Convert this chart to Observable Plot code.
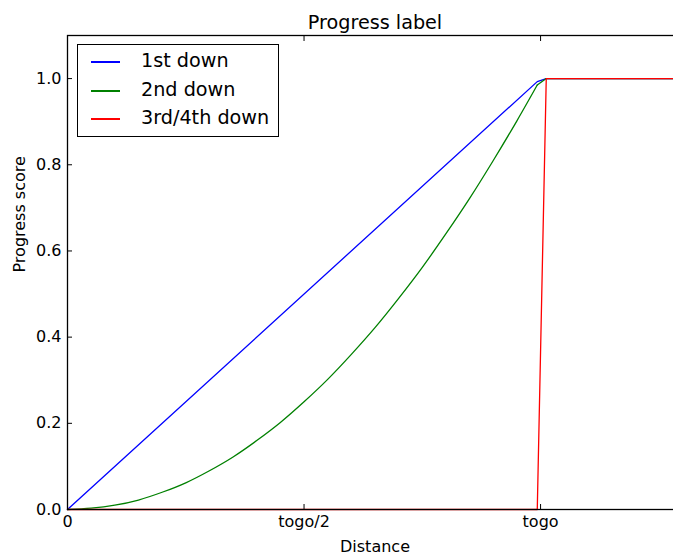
<!DOCTYPE html>
<html><head><meta charset="utf-8">
<script src="https://cdn.jsdelivr.net/npm/d3@7"></script>
<script src="https://cdn.jsdelivr.net/npm/@observablehq/plot@0.6"></script>
<style>
body{margin:0;overflow:hidden;background:white;font-family:"DejaVu Sans",sans-serif;}
#wrap{position:relative;width:673px;height:554px;overflow:hidden;background:white;}
#legend{position:absolute;left:77px;top:44px;width:200px;height:91px;border:1px solid black;background:white;font-family:"DejaVu Sans",sans-serif;font-size:19.2px;}
.row{position:absolute;left:0;height:28px;line-height:28px;white-space:nowrap;}
.swatch{position:absolute;left:13px;top:15px;width:29px;height:2px;}
.lab{position:absolute;left:63px;top:1px;color:black;}
</style></head><body><div id="wrap"></div>
<script>
const seriesNames = ["1st down", "2nd down", "3rd/4th down"];
const seriesColors = ["#0000ff", "#008000", "#ff0000"];

const firstDownX = [0, 0.993, 1.012, 1.3];
const firstDownY = [0, 0.993, 1, 1];

const secondDownX = [0, 0.05, 0.1, 0.15, 0.2, 0.25, 0.3, 0.35, 0.4, 0.45, 0.5, 0.55, 0.6, 0.65, 0.7, 0.75, 0.8, 0.85, 0.9, 0.95, 0.993, 1.012, 1.3];
const secondDownY = [0, 0.003, 0.01, 0.022, 0.04, 0.062, 0.09, 0.122, 0.16, 0.202, 0.25, 0.302, 0.36, 0.422, 0.49, 0.562, 0.64, 0.722, 0.81, 0.902, 0.985, 1, 1];

const thirdDownX = [0, 0.993, 1.012, 1.3];
const thirdDownY = [0, 0, 1, 1];

const xTickValues = [0, 0.5, 1];
const xTickLabels = ["0", "togo/2", "togo"];
const yTickValues = [0, 0.2, 0.4, 0.6, 0.8, 1.0];

const titleText = "Progress label";
const xLabelText = "Distance";
const yLabelText = "Progress score";

const seriesX = [firstDownX, secondDownX, thirdDownX];
const seriesY = [firstDownY, secondDownY, thirdDownY];
const rows = [];
seriesNames.forEach((name, s) => {
  seriesX[s].forEach((x, i) => rows.push({series: name, x, y: seriesY[s][i]}));
});
const firstRows = rows.filter(d => d.series === seriesNames[0]);
const curveRows = rows.filter(d => d.series === seriesNames[1] && d.x <= 0.993);
const tailRows = rows.filter(d => d.series === seriesNames[1] && d.x >= 0.993);
const thirdRows = rows.filter(d => d.series === seriesNames[2]);

const chart = Plot.plot({
  width: 673,
  height: 554,
  marginLeft: 67,
  marginRight: -9,
  marginTop: 35,
  marginBottom: 45,
  style: {fontFamily: "DejaVu Sans", fontSize: "16px", color: "black", background: "white", overflow: "hidden"},
  x: {domain: [0, 1.3]},
  y: {domain: [0, 1.1]},
  color: {domain: seriesNames, range: seriesColors},
  marks: [
    Plot.line(firstRows, {x: "x", y: "y", stroke: "series", strokeWidth: 1.3}),
    Plot.line(curveRows, {x: "x", y: "y", stroke: "series", strokeWidth: 1.3, curve: "monotone-x"}),
    Plot.line(tailRows, {x: "x", y: "y", stroke: "series", strokeWidth: 1.3}),
    Plot.line(thirdRows, {x: "x", y: "y", stroke: "series", strokeWidth: 1.3}),
    Plot.frame({stroke: "black", strokeWidth: 1.3}),
    Plot.axisX({anchor: "bottom", ticks: xTickValues, tickFormat: d => xTickLabels[xTickValues.indexOf(d)], tickSize: -5, tickPadding: 11, label: null}),
    Plot.axisX({anchor: "top", ticks: xTickValues, tickFormat: () => "", tickSize: -5, label: null}),
    Plot.axisY({anchor: "left", ticks: yTickValues, tickFormat: d3.format(".1f"), tickSize: -5, tickPadding: 11, label: null}),
    Plot.text([titleText], {text: d => d, frameAnchor: "top", dy: -20, fontSize: 19.2}),
    Plot.text([xLabelText], {text: d => d, frameAnchor: "bottom", dy: 42, fontSize: 16}),
    Plot.text([yLabelText], {text: d => d, frameAnchor: "left", dx: -48, rotate: -90, fontSize: 16})
  ]
});
const wrap = document.getElementById("wrap");
wrap.appendChild(chart);

const legend = document.createElement("div");
legend.id = "legend";
seriesNames.forEach((name, i) => {
  const row = document.createElement("div");
  row.className = "row";
  row.style.top = [1, 30, 58][i] + "px";
  row.style.width = "100%";
  const sw = document.createElement("div");
  sw.className = "swatch";
  sw.style.backgroundColor = seriesColors[i];
  const lab = document.createElement("div");
  lab.className = "lab";
  lab.textContent = name;
  row.appendChild(sw);
  row.appendChild(lab);
  legend.appendChild(row);
});
wrap.appendChild(legend);
</script>
</body></html>
